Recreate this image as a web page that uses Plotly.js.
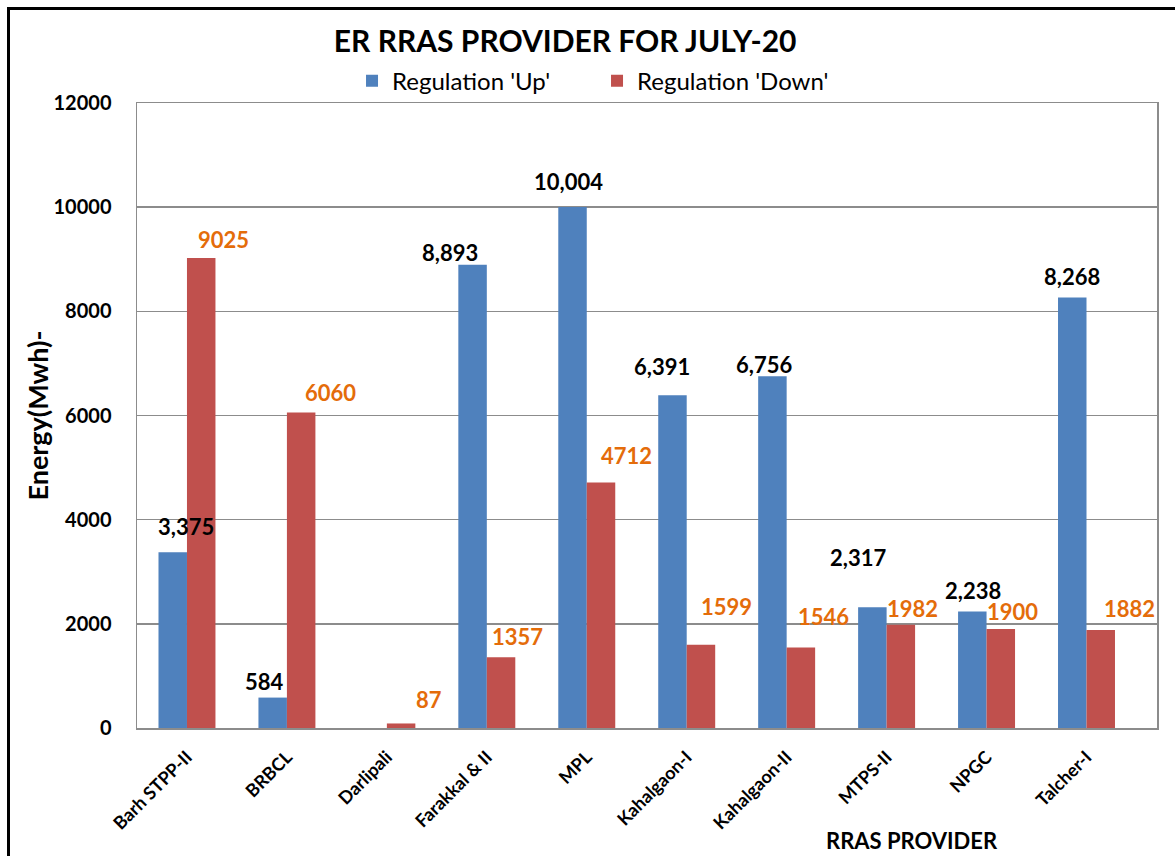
<!DOCTYPE html>
<html>
<head>
<meta charset="utf-8">
<script src="https://cdn.plot.ly/plotly-3.0.1.min.js"></script>
<style>
  html, body { margin: 0; padding: 0; background: #fff; }
  #chart { width: 1175px; height: 856px; position: absolute; left: 0; top: 0; }
  #frame { position: absolute; left: 7px; top: 7px; width: 1200px; height: 900px;
           border-left: 3px solid #000; border-top: 3px solid #000; pointer-events: none; }
</style>
</head>
<body>
<div id="chart"></div>
<div id="frame"></div>
<script>
const categories = ['Barh STPP-II', 'BRBCL', 'Darlipali', 'Farakkal & II', 'MPL',
                    'Kahalgaon-I', 'Kahalgaon-II', 'MTPS-II', 'NPGC', 'Talcher-I'];
const regUp   = [3375, 584, 0, 8893, 10004, 6391, 6756, 2317, 2238, 8268];
const regDown = [9025, 6060, 87, 1357, 4712, 1599, 1546, 1982, 1900, 1882];
const yTicks  = [0, 2000, 4000, 6000, 8000, 10000, 12000];

// label placement offsets (pixels, relative to category centre / bar top)
const upShift   = [[-1, 26], [-22, 16], null, [-37, 12], [-18, 25], [-25, 29], [-23, 12], [-29, 50], [-14, 21], [-15, 21]];
const downShift = [[37, 18], [44, 20], [42, 24], [31, 21], [40, 27], [40, 38], [37, 31], [26, 16], [26, 18], [43, 21]];

const FONT = 'Lato, "Open Sans", sans-serif';
const BLUE = '#4F81BD', RED = '#C0504D', ORANGE = '#E46C0A';

const traces = [
  { type: 'bar', name: "Regulation 'Up'", x: categories, y: regUp,
    marker: { color: BLUE }, hoverinfo: 'x+y' },
  { type: 'bar', name: "Regulation 'Down'", x: categories, y: regDown,
    marker: { color: RED }, hoverinfo: 'x+y' }
];

const annotations = [];
categories.forEach((c, i) => {
  if (upShift[i]) {
    annotations.push({ x: c, y: regUp[i], xref: 'x', yref: 'y', showarrow: false,
      text: regUp[i].toLocaleString('en-US'), xshift: upShift[i][0], yshift: upShift[i][1],
      xanchor: 'center', yanchor: 'middle',
      font: { family: FONT, size: 22, color: '#000', weight: 'bold' } });
  }
  annotations.push({ x: c, y: regDown[i], xref: 'x', yref: 'y', showarrow: false,
    text: String(regDown[i]), xshift: downShift[i][0], yshift: downShift[i][1],
    xanchor: 'center', yanchor: 'middle',
    font: { family: FONT, size: 22, color: ORANGE, weight: 'bold' } });
});
annotations.push({ xref: 'paper', yref: 'paper', x: 0.76, y: 0, yshift: -112, showarrow: false,
  text: 'RRAS PROVIDER', xanchor: 'center', yanchor: 'middle',
  font: { family: FONT, size: 22, color: '#000', weight: 'bold' } });
annotations.push({ xref: 'paper', yref: 'paper', x: 0, xshift: -100, y: 0.5, showarrow: false,
  text: 'Energy(Mwh)-', textangle: -90, xanchor: 'center', yanchor: 'middle',
  font: { family: FONT, size: 27, color: '#000', weight: 'bold' } });

const layout = {
  width: 1175, height: 856,
  margin: { l: 137, r: 18, t: 103, b: 128 },
  paper_bgcolor: '#fff', plot_bgcolor: '#fff',
  title: { text: 'ER RRAS PROVIDER FOR JULY-20', x: 0.481, xanchor: 'center', y: 0.951, yanchor: 'middle',
    font: { family: FONT, size: 30, color: '#000', weight: 'bold' } },
  barmode: 'group', bargap: 0.43, bargroupgap: 0,
  showlegend: true,
  legend: { orientation: 'h', x: 0.451, xanchor: 'center', y: 1.035, yanchor: 'middle',
    bgcolor: 'rgba(0,0,0,0)', entrywidth: 200,
    font: { family: FONT, size: 24, color: '#000' }, traceorder: 'normal' },
  xaxis: { type: 'category', tickangle: -45, showline: true, linecolor: '#8c8c8c', linewidth: 1.5,
    mirror: true, ticks: '', ticklabelstandoff: 10,
    tickfont: { family: FONT, size: 18, color: '#000', weight: 'bold' }, fixedrange: true },
  yaxis: { range: [0, 12000], tickvals: yTicks, ticktext: yTicks.map(String), showgrid: true,
    gridcolor: '#8c8c8c', gridwidth: 1.5, showline: true, linecolor: '#8c8c8c', linewidth: 1.5,
    mirror: true, ticks: '', ticklen: 0, zeroline: false, ticklabelstandoff: 20,
    tickfont: { family: FONT, size: 20, color: '#000', weight: 'bold' }, fixedrange: true },
  annotations: annotations
};

Plotly.newPlot('chart', traces, layout, { displayModeBar: false, staticPlot: true });
</script>
</body>
</html>
